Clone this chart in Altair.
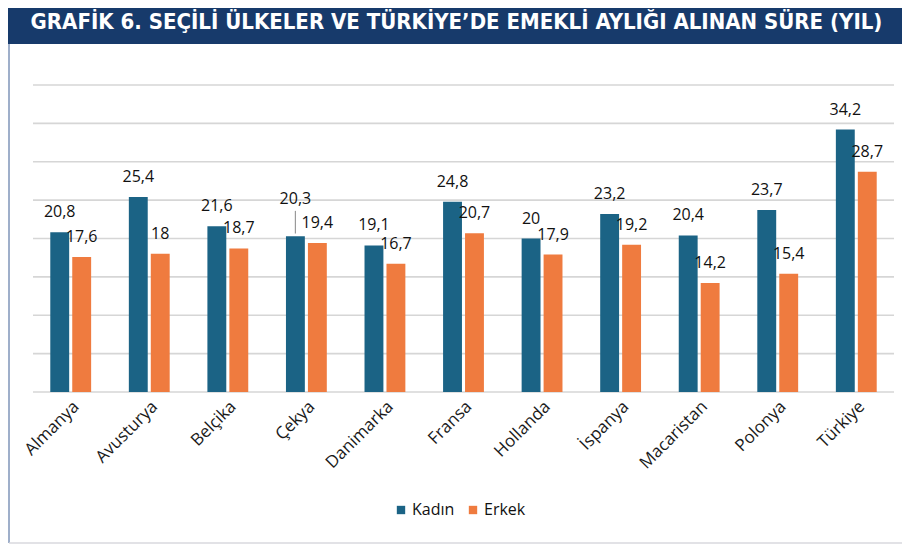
import altair as alt
import pandas as pd

countries = ["Almanya", "Avusturya", "Belçika", "Çekya", "Danimarka", "Fransa",
             "Hollanda", "İspanya", "Macaristan", "Polonya", "Türkiye"]
kadin = [20.8, 25.4, 21.6, 20.3, 19.1, 24.8, 20, 23.2, 20.4, 23.7, 34.2]
erkek = [17.6, 18, 18.7, 19.4, 16.7, 20.7, 17.9, 19.2, 14.2, 15.4, 28.7]
series = ["Kadın", "Erkek"]
colors = ["#1b6385", "#ef7b3f"]
grid_values = [0, 5, 10, 15, 20, 25, 30, 35, 40]
title_text = "GRAFİK 6. SEÇİLİ ÜLKELER VE TÜRKİYE’DE EMEKLİ AYLIĞI ALINAN SÜRE (YIL)"

rows = []
for c, k, e in zip(countries, kadin, erkek):
    rows.append({"ulke": c, "cins": "Kadın", "deger": k})
    rows.append({"ulke": c, "cins": "Erkek", "deger": e})
df = pd.DataFrame(rows)
df["etiket"] = df["deger"].map(lambda v: f"{v:g}".replace(".", ","))
# Çekya Kadın label is lifted with a leader line in the original
df["lift"] = ((df["ulke"] == "Çekya") & (df["cins"] == "Kadın")).astype(int)

W, H = 861, 307
PL, PT, PR, PB = 25, 77, 8, 152
FONT = "Open Sans"

y_scale = alt.Scale(domain=[0, 40], nice=False)

x_enc = alt.X("ulke:N", sort=countries,
              scale=alt.Scale(paddingInner=0.48, paddingOuter=0.22),
              axis=alt.Axis(title=None, labelAngle=-45, labelFontSize=17,
                            labelColor="#1a1a1a", labelFont=FONT, ticks=False,
                            domain=False, grid=False, labelPadding=6))
xo_enc = alt.XOffset("cins:N", sort=series,
                     scale=alt.Scale(paddingInner=0.14, paddingOuter=0))
y_enc = alt.Y("deger:Q", scale=y_scale, axis=None)
color_enc = alt.Color("cins:N", sort=series,
                      scale=alt.Scale(domain=series, range=colors),
                      legend=alt.Legend(title=None, orient="none", legendX=360,
                                        legendY=417, direction="horizontal",
                                        symbolType="square", symbolSize=70,
                                        symbolStrokeWidth=0, labelFontSize=16,
                                        labelFont=FONT, labelColor="#111111",
                                        columnPadding=10, labelOffset=3))

grid = alt.Chart(pd.DataFrame({"v": grid_values})).mark_rule(
    color="#d6d6d6", strokeWidth=1.6
).encode(y=alt.Y("v:Q", scale=y_scale, axis=None), x=alt.value(0), x2=alt.value(W))

base = alt.Chart(df)

bars = base.mark_bar().encode(x=x_enc, xOffset=xo_enc, y=y_enc, color=color_enc)

labels_normal = base.transform_filter("datum.lift == 0").mark_text(
    fontSize=16, font=FONT, color="#111111", baseline="middle", dy=-20
).encode(x=x_enc, xOffset=xo_enc, y=y_enc, text="etiket:N")

labels_lift = base.transform_filter("datum.lift == 1").mark_text(
    fontSize=16, font=FONT, color="#111111", baseline="middle", dy=-37
).encode(x=x_enc, xOffset=xo_enc, y=y_enc, text="etiket:N")

leader = base.transform_filter("datum.lift == 1").transform_calculate(
    y1="datum.deger + 0.35", y2="datum.deger + 3.3"
).mark_rule(color="#9a9a9a", strokeWidth=1.2).encode(
    x=x_enc, xOffset=xo_enc, y=alt.Y("y1:Q", scale=y_scale, axis=None), y2="y2:Q")

deco = pd.DataFrame({"t": [title_text]})
banner = alt.Chart(deco).mark_rect(color="#173a6b").encode(
    x=alt.value(-PL), x2=alt.value(W + PR), y=alt.value(-PT), y2=alt.value(-PT + 36))
title = alt.Chart(deco).mark_text(
    font="DejaVu Sans Condensed, Liberation Sans Narrow, sans-serif",
    fontWeight="bold", fontSize=22, color="#ffffff", baseline="middle", align="center"
).encode(x=alt.value(W / 2 - 7), y=alt.value(-PT + 14), text="t:N")
left_border = alt.Chart(deco).mark_rule(color="#7f95b8", strokeWidth=1.5).encode(
    x=alt.value(-PL + 1), y=alt.value(-PT + 36), y2=alt.value(H + PB - 1))
bottom_border = alt.Chart(deco).mark_rule(color="#d8d8de", strokeWidth=1.5).encode(
    x=alt.value(-PL + 1), x2=alt.value(W + PR), y=alt.value(H + PB - 1))

chart = alt.layer(banner, title, left_border, bottom_border, grid, bars, leader,
                  labels_normal, labels_lift).properties(
    width=W, height=H,
    padding={"left": PL, "top": PT, "right": PR, "bottom": PB},
    autosize=alt.AutoSizeParams(type="none"),
).configure(background="#ffffff").configure_view(stroke=None)

chart.save("out.html", embed_options={"renderer": "svg", "actions": False})
